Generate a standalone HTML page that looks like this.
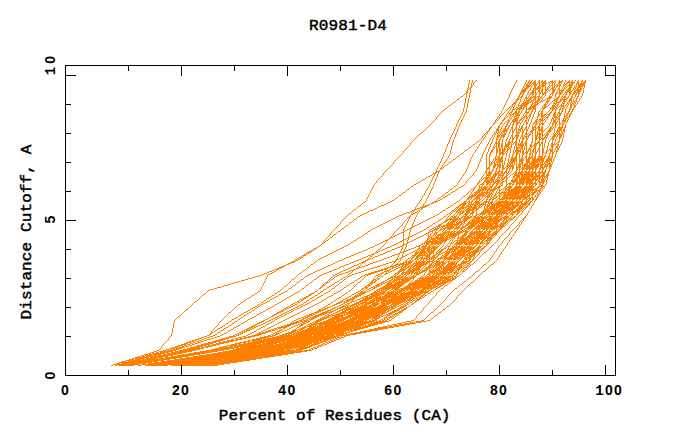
<!DOCTYPE html>
<html><head><meta charset="utf-8">
<style>
html,body{margin:0;padding:0;background:#fff;}
body{width:680px;height:440px;position:relative;overflow:hidden;font-family:"Liberation Mono",monospace;}
svg{position:absolute;left:0;top:0;}
.t{position:absolute;white-space:pre;font-weight:bold;color:#000;line-height:1;}
.title{font-size:16px;letter-spacing:0.15px;left:309px;top:19px;transform:scaleY(0.88);transform-origin:0 0;font-weight:normal;-webkit-text-stroke:0.5px #000;}
.xl{font-size:16px;letter-spacing:0.05px;left:218.8px;top:409.2px;transform:scaleY(0.88);transform-origin:0 0;font-weight:normal;-webkit-text-stroke:0.5px #000;}
.yl{font-size:16px;letter-spacing:0.12px;left:27px;top:232.3px;transform:translate(-50%,-50%) rotate(-90deg) scaleY(0.88);font-weight:normal;-webkit-text-stroke:0.5px #000;}
.tk{font-family:"Liberation Sans",sans-serif;font-weight:bold;font-size:14px;letter-spacing:1.3px;top:383px;}
.tky{font-family:"Liberation Sans",sans-serif;font-weight:bold;font-size:14px;letter-spacing:1.3px;transform:translate(-50%,-50%) rotate(-90deg);left:50px;}
.m{font-family:"Liberation Mono",monospace;font-size:14px;letter-spacing:1.4px;}
.tky .m{letter-spacing:3.2px;}
</style></head><body>
<svg width="680" height="440" viewBox="0 0 680 440">
<path shape-rendering="crispEdges" fill="none" stroke="#ff7f00" stroke-width="1" transform="translate(0,0.5)" d="M469 80h1M472 80h1M476 80h1M516 80h1M526 80h1M529 80h1M532 80h1M535 80h1M539 80h1M542 80h1M545 80h1M552 80h1M555 80h1M559 80h1M562 80h1M565 80h1M569 80h1M572 80h1M575 80h1M578 80h1M582 80h1M585 80h1M469 81h1M472 81h1M475 81h1M516 81h1M526 81h1M528 81h2M531 81h1M534 81h2M538 81h2M541 81h2M544 81h2M550 81h3M554 81h2M559 81h4M565 81h1M568 81h2M571 81h2M574 81h1M577 81h2M581 81h2M584 81h2M469 82h1M472 82h1M474 82h1M515 82h1M525 82h1M528 82h1M530 82h2M533 82h3M538 82h2M541 82h5M548 82h2M551 82h3M555 82h1M558 82h4M564 82h1M567 82h8M577 82h2M581 82h1M583 82h3M468 83h1M471 83h1M473 83h1M515 83h1M525 83h1M527 83h4M532 83h4M537 83h1M539 83h2M542 83h6M550 83h1M552 83h1M554 83h1M558 83h2M561 83h1M564 83h1M566 83h2M569 83h1M571 83h3M576 83h3M580 83h5M468 84h1M471 84h1M473 84h1M514 84h1M524 84h1M526 84h2M529 84h1M531 84h1M533 84h4M539 84h1M541 84h3M545 84h1M549 84h1M552 84h1M554 84h1M556 84h2M559 84h2M563 84h1M565 84h2M569 84h4M576 84h1M578 84h7M468 85h1M471 85h2M514 85h1M524 85h1M526 85h5M532 85h1M534 85h3M539 85h2M542 85h4M549 85h1M551 85h2M554 85h2M557 85h4M563 85h2M566 85h1M568 85h5M575 85h2M578 85h7M468 86h1M471 86h1M513 86h1M523 86h1M525 86h5M531 86h1M534 86h2M538 86h2M541 86h3M545 86h1M548 86h1M550 86h1M552 86h1M554 86h1M556 86h2M559 86h1M563 86h1M565 86h1M567 86h1M569 86h3M574 86h1M576 86h1M578 86h5M584 86h1M468 87h1M470 87h2M513 87h1M523 87h2M526 87h3M531 87h1M534 87h2M537 87h4M542 87h1M545 87h1M547 87h1M549 87h1M552 87h3M556 87h1M559 87h1M562 87h1M564 87h1M566 87h1M569 87h3M574 87h2M577 87h4M582 87h1M584 87h1M467 88h1M469 88h2M512 88h1M522 88h1M524 88h4M530 88h1M533 88h8M542 88h1M545 88h1M547 88h2M551 88h3M555 88h1M558 88h2M562 88h1M564 88h2M568 88h3M573 88h1M575 88h1M577 88h2M580 88h2M583 88h1M467 89h2M470 89h1M512 89h1M522 89h5M530 89h1M533 89h1M535 89h3M539 89h1M541 89h2M545 89h3M550 89h1M552 89h4M558 89h2M561 89h1M563 89h2M567 89h4M573 89h2M576 89h6M583 89h1M467 90h1M470 90h1M511 90h1M521 90h5M529 90h1M532 90h4M538 90h2M541 90h2M545 90h2M548 90h2M552 90h3M557 90h1M559 90h5M566 90h5M572 90h1M574 90h7M583 90h1M466 91h2M470 91h1M511 91h1M521 91h5M528 91h1M532 91h2M535 91h1M538 91h2M541 91h2M545 91h1M547 91h1M552 91h3M557 91h1M559 91h1M561 91h2M565 91h1M567 91h5M574 91h2M577 91h4M583 91h1M466 92h2M470 92h1M510 92h1M520 92h5M528 92h1M531 92h5M537 92h1M539 92h2M542 92h1M544 92h3M552 92h2M556 92h1M558 92h5M565 92h3M569 92h3M573 92h7M583 92h1M465 93h2M469 93h1M510 93h1M520 93h2M523 93h1M527 93h1M529 93h5M535 93h2M539 93h2M542 93h4M551 93h3M556 93h2M559 93h3M564 93h1M566 93h1M569 93h2M573 93h2M576 93h1M578 93h2M582 93h1M464 94h1M466 94h1M469 94h1M509 94h1M519 94h2M522 94h2M527 94h2M530 94h1M532 94h2M535 94h2M539 94h1M542 94h2M545 94h1M550 94h1M552 94h1M555 94h2M559 94h2M563 94h1M565 94h2M569 94h2M572 94h2M575 94h2M578 94h1M582 94h1M463 95h1M466 95h1M469 95h1M509 95h1M519 95h1M522 95h1M526 95h1M529 95h1M532 95h1M535 95h1M539 95h1M542 95h1M545 95h1M549 95h1M552 95h1M555 95h1M559 95h1M562 95h1M565 95h1M569 95h1M572 95h1M575 95h1M578 95h1M582 95h1M461 96h2M466 96h1M469 96h1M509 96h1M518 96h2M521 96h2M526 96h1M528 96h1M531 96h1M533 96h3M537 96h3M541 96h1M544 96h1M549 96h3M555 96h1M558 96h2M562 96h1M564 96h2M568 96h1M571 96h2M575 96h1M577 96h2M581 96h1M460 97h1M466 97h1M469 97h1M508 97h1M518 97h1M520 97h2M525 97h2M528 97h1M530 97h7M538 97h1M540 97h2M543 97h1M548 97h4M555 97h1M557 97h2M561 97h1M563 97h3M567 97h2M571 97h2M574 97h1M577 97h1M581 97h1M459 98h1M465 98h1M468 98h1M508 98h1M517 98h3M521 98h1M525 98h3M529 98h3M534 98h2M538 98h3M542 98h1M546 98h5M554 98h1M556 98h3M561 98h2M564 98h1M566 98h2M570 98h2M574 98h1M576 98h2M580 98h1M457 99h2M465 99h1M468 99h1M507 99h1M516 99h3M520 99h1M524 99h1M526 99h1M528 99h3M533 99h3M537 99h3M542 99h1M545 99h1M547 99h1M549 99h1M554 99h4M560 99h7M569 99h3M573 99h1M576 99h1M579 99h1M456 100h1M465 100h1M468 100h1M507 100h1M516 100h2M520 100h1M524 100h1M526 100h4M531 100h3M535 100h1M537 100h3M541 100h1M543 100h2M547 100h3M553 100h2M556 100h2M560 100h2M563 100h2M566 100h1M569 100h3M573 100h1M575 100h2M579 100h1M455 101h1M465 101h1M468 101h1M506 101h1M515 101h2M520 101h1M523 101h1M525 101h4M530 101h2M533 101h1M535 101h4M540 101h3M546 101h3M552 101h1M554 101h3M559 101h2M563 101h3M568 101h2M571 101h1M573 101h2M576 101h1M578 101h1M453 102h2M465 102h1M468 102h1M506 102h1M514 102h3M519 102h1M523 102h8M532 102h1M534 102h4M539 102h2M546 102h2M551 102h1M554 102h1M556 102h4M562 102h1M564 102h1M567 102h1M569 102h1M571 102h2M574 102h2M577 102h1M452 103h1M464 103h1M467 103h1M505 103h1M513 103h3M519 103h1M522 103h7M532 103h2M535 103h1M537 103h2M545 103h1M547 103h1M550 103h1M553 103h4M558 103h1M562 103h3M567 103h2M570 103h1M572 103h2M575 103h1M577 103h1M451 104h1M464 104h1M467 104h1M505 104h1M512 104h2M515 104h1M518 104h1M521 104h7M531 104h2M534 104h4M544 104h3M549 104h1M553 104h1M555 104h1M557 104h2M561 104h1M563 104h1M566 104h1M568 104h1M570 104h2M573 104h2M576 104h1M449 105h2M464 105h1M467 105h1M504 105h1M511 105h2M514 105h1M518 105h9M531 105h1M533 105h4M543 105h3M548 105h1M552 105h3M556 105h2M560 105h4M565 105h1M567 105h1M570 105h3M574 105h2M448 106h1M464 106h1M467 106h1M504 106h1M510 106h1M512 106h1M514 106h1M518 106h1M520 106h3M524 106h3M530 106h6M542 106h1M544 106h4M552 106h4M557 106h1M559 106h1M561 106h3M565 106h1M567 106h1M570 106h2M574 106h2M447 107h1M464 107h1M467 107h1M503 107h1M509 107h1M511 107h1M513 107h1M516 107h2M519 107h3M523 107h2M526 107h1M529 107h7M542 107h4M551 107h3M555 107h2M558 107h1M560 107h2M563 107h2M566 107h1M570 107h2M573 107h2M445 108h2M463 108h1M466 108h1M503 108h1M508 108h1M510 108h1M513 108h1M515 108h1M517 108h7M526 108h1M528 108h4M533 108h3M541 108h1M543 108h2M550 108h5M556 108h2M560 108h1M562 108h2M566 108h1M569 108h2M573 108h1M444 109h1M463 109h1M466 109h1M502 109h1M507 109h1M510 109h1M512 109h3M516 109h5M523 109h1M526 109h5M532 109h2M535 109h1M540 109h1M542 109h2M550 109h1M552 109h2M555 109h2M559 109h2M562 109h2M565 109h1M569 109h2M572 109h2M443 110h1M463 110h1M466 110h1M502 110h1M506 110h1M509 110h1M512 110h1M516 110h1M519 110h1M522 110h1M526 110h1M529 110h1M532 110h1M535 110h1M539 110h1M542 110h1M549 110h1M552 110h1M555 110h1M559 110h1M562 110h1M565 110h1M569 110h1M572 110h1M442 111h1M463 111h1M466 111h1M501 111h1M505 111h1M508 111h1M511 111h2M515 111h2M518 111h2M521 111h1M525 111h2M528 111h1M531 111h2M535 111h1M539 111h1M541 111h2M548 111h1M551 111h1M555 111h1M559 111h1M561 111h2M565 111h1M568 111h2M571 111h2M441 112h1M462 112h1M465 112h1M501 112h1M504 112h1M508 112h1M510 112h2M514 112h3M518 112h2M521 112h1M525 112h4M531 112h1M534 112h1M538 112h1M541 112h2M547 112h1M550 112h2M554 112h2M558 112h2M561 112h1M565 112h1M568 112h1M571 112h1M440 113h1M462 113h1M465 113h1M500 113h1M503 113h1M507 113h1M509 113h1M511 113h1M513 113h6M520 113h1M524 113h1M526 113h2M530 113h2M534 113h1M538 113h1M540 113h3M546 113h1M549 113h2M554 113h2M558 113h4M564 113h1M567 113h2M570 113h2M439 114h1M461 114h1M464 114h1M499 114h1M502 114h1M506 114h1M509 114h2M512 114h2M515 114h5M523 114h1M526 114h1M529 114h2M533 114h1M538 114h2M541 114h2M544 114h2M547 114h3M553 114h3M557 114h1M559 114h2M564 114h1M566 114h2M569 114h2M438 115h1M461 115h1M464 115h1M499 115h1M501 115h1M506 115h1M508 115h1M510 115h2M513 115h1M515 115h5M523 115h1M525 115h2M529 115h2M533 115h1M538 115h2M541 115h4M546 115h1M548 115h2M553 115h3M557 115h1M559 115h2M564 115h1M566 115h2M569 115h2M437 116h1M460 116h1M463 116h1M498 116h1M500 116h1M505 116h1M507 116h1M510 116h1M512 116h1M514 116h3M518 116h1M522 116h1M524 116h3M528 116h1M530 116h1M533 116h1M537 116h2M541 116h3M545 116h1M547 116h2M553 116h4M558 116h2M564 116h3M568 116h2M436 117h1M460 117h1M463 117h1M497 117h1M499 117h1M504 117h1M506 117h1M509 117h1M511 117h1M514 117h1M516 117h3M521 117h1M523 117h2M526 117h2M529 117h1M532 117h1M537 117h1M541 117h2M544 117h1M546 117h2M552 117h1M554 117h4M559 117h1M564 117h1M566 117h2M569 117h1M436 118h1M459 118h1M462 118h1M497 118h1M499 118h1M504 118h2M509 118h1M511 118h1M514 118h4M521 118h2M524 118h1M526 118h2M529 118h1M532 118h1M537 118h1M540 118h1M542 118h2M545 118h1M547 118h1M552 118h2M555 118h1M557 118h3M563 118h3M567 118h2M435 119h1M459 119h1M462 119h1M496 119h1M498 119h1M503 119h2M508 119h1M510 119h1M513 119h5M520 119h2M523 119h1M526 119h1M528 119h1M531 119h1M536 119h2M539 119h4M544 119h1M546 119h1M551 119h1M553 119h1M555 119h2M558 119h2M563 119h1M565 119h2M568 119h1M434 120h1M458 120h1M461 120h1M495 120h1M497 120h1M502 120h2M507 120h3M512 120h6M519 120h2M522 120h1M525 120h2M528 120h1M531 120h1M535 120h2M538 120h1M540 120h4M545 120h1M551 120h1M553 120h3M557 120h1M559 120h1M562 120h4M567 120h1M433 121h1M458 121h1M461 121h1M495 121h2M502 121h1M506 121h1M508 121h2M512 121h6M519 121h1M522 121h1M525 121h2M528 121h1M531 121h1M535 121h3M539 121h2M542 121h1M545 121h1M551 121h1M553 121h3M557 121h1M559 121h1M562 121h4M567 121h1M432 122h1M457 122h1M460 122h1M494 122h2M501 122h2M505 122h1M507 122h2M511 122h1M513 122h2M516 122h4M521 122h1M524 122h1M526 122h2M530 122h1M534 122h3M538 122h1M540 122h1M542 122h1M544 122h1M550 122h1M553 122h4M559 122h1M561 122h1M563 122h2M566 122h1M431 123h1M457 123h1M460 123h1M493 123h2M500 123h2M504 123h1M507 123h1M510 123h1M513 123h1M516 123h3M520 123h1M523 123h1M526 123h2M530 123h1M533 123h2M536 123h2M539 123h1M541 123h3M550 123h1M552 123h2M555 123h2M559 123h2M562 123h2M566 123h1M430 124h1M456 124h1M459 124h1M493 124h1M500 124h1M503 124h1M506 124h2M510 124h1M512 124h2M516 124h2M520 124h1M523 124h1M526 124h1M529 124h1M533 124h1M535 124h2M539 124h2M542 124h2M549 124h1M552 124h2M555 124h1M559 124h2M562 124h2M565 124h1M429 125h1M456 125h1M459 125h1M492 125h1M499 125h1M502 125h1M506 125h1M509 125h1M512 125h1M516 125h1M519 125h1M522 125h1M526 125h1M529 125h1M532 125h1M535 125h1M539 125h1M542 125h1M549 125h1M552 125h1M555 125h1M559 125h1M562 125h1M565 125h1M428 126h1M456 126h1M459 126h1M491 126h1M498 126h2M502 126h1M505 126h2M508 126h2M512 126h1M516 126h1M519 126h1M521 126h2M526 126h1M529 126h1M532 126h1M534 126h2M538 126h2M542 126h1M548 126h1M551 126h2M554 126h2M559 126h1M561 126h2M565 126h1M427 127h1M455 127h1M458 127h1M490 127h2M498 127h2M501 127h1M505 127h1M508 127h1M511 127h2M515 127h2M519 127h1M521 127h2M525 127h2M528 127h1M532 127h4M537 127h3M541 127h2M547 127h1M550 127h2M553 127h1M555 127h1M558 127h5M564 127h2M426 128h1M455 128h1M458 128h1M489 128h2M497 128h2M501 128h1M504 128h2M507 128h2M511 128h2M515 128h2M518 128h1M520 128h3M525 128h2M528 128h1M532 128h2M535 128h2M538 128h2M541 128h2M546 128h1M549 128h4M554 128h1M558 128h4M564 128h1M425 129h1M454 129h1M457 129h1M489 129h1M496 129h3M500 129h1M503 129h5M510 129h1M512 129h1M514 129h1M516 129h1M518 129h3M522 129h1M524 129h1M526 129h2M532 129h4M538 129h5M545 129h1M549 129h2M552 129h1M554 129h1M557 129h1M559 129h3M563 129h2M424 130h1M454 130h1M457 130h1M488 130h2M496 130h3M500 130h1M503 130h5M510 130h1M512 130h1M514 130h1M516 130h1M518 130h3M522 130h1M524 130h1M526 130h2M531 130h3M535 130h1M538 130h5M544 130h1M548 130h4M554 130h1M557 130h5M563 130h2M423 131h1M453 131h1M457 131h1M487 131h2M495 131h2M498 131h1M500 131h1M502 131h5M510 131h1M512 131h2M516 131h1M518 131h1M520 131h1M522 131h2M526 131h1M530 131h3M535 131h1M537 131h1M539 131h1M541 131h3M547 131h4M554 131h1M556 131h4M561 131h1M563 131h2M421 132h2M453 132h1M456 132h1M486 132h2M494 132h1M496 132h1M498 132h2M501 132h1M503 132h2M506 132h1M509 132h1M512 132h2M516 132h4M522 132h2M526 132h1M529 132h1M531 132h2M535 132h1M537 132h1M539 132h1M541 132h2M546 132h2M549 132h1M554 132h1M556 132h2M559 132h1M561 132h2M564 132h1M420 133h1M452 133h1M456 133h1M485 133h1M487 133h1M494 133h2M497 133h1M499 133h1M501 133h2M504 133h2M509 133h1M512 133h1M516 133h2M519 133h1M522 133h1M525 133h2M528 133h1M530 133h1M532 133h1M535 133h1M537 133h4M542 133h1M545 133h1M547 133h2M553 133h1M555 133h1M557 133h4M562 133h2M419 134h1M452 134h1M455 134h1M484 134h1M486 134h1M493 134h1M495 134h1M497 134h2M500 134h1M502 134h4M508 134h1M512 134h1M516 134h3M522 134h1M525 134h3M529 134h2M532 134h1M535 134h1M537 134h6M544 134h1M546 134h3M553 134h4M558 134h4M563 134h1M418 135h1M451 135h1M455 135h1M483 135h1M485 135h1M492 135h1M494 135h1M497 135h3M501 135h4M508 135h1M511 135h2M515 135h4M521 135h2M524 135h1M526 135h1M528 135h2M532 135h1M535 135h3M539 135h2M542 135h2M545 135h3M553 135h3M557 135h1M559 135h3M563 135h1M417 136h1M451 136h1M455 136h1M482 136h1M485 136h1M492 136h1M494 136h1M497 136h3M501 136h4M508 136h1M511 136h2M515 136h4M521 136h2M524 136h5M532 136h1M535 136h3M539 136h2M542 136h1M545 136h1M547 136h1M552 136h4M557 136h1M559 136h3M563 136h1M416 137h1M450 137h1M454 137h1M482 137h1M484 137h1M491 137h1M493 137h1M497 137h2M500 137h2M503 137h1M507 137h1M510 137h1M512 137h1M514 137h1M516 137h2M520 137h1M522 137h2M525 137h2M528 137h1M532 137h1M535 137h2M538 137h3M542 137h1M544 137h3M552 137h3M556 137h1M559 137h2M563 137h1M415 138h1M450 138h1M454 138h1M481 138h1M483 138h1M490 138h1M493 138h1M496 138h2M500 138h1M503 138h1M507 138h1M510 138h1M512 138h2M516 138h2M520 138h1M522 138h3M526 138h2M532 138h1M535 138h3M539 138h1M541 138h4M546 138h1M551 138h3M556 138h1M559 138h2M562 138h1M414 139h1M449 139h1M453 139h1M480 139h1M483 139h1M490 139h1M492 139h1M496 139h2M499 139h2M502 139h1M506 139h1M509 139h1M512 139h2M516 139h1M519 139h1M522 139h2M526 139h2M532 139h1M535 139h2M539 139h2M542 139h2M545 139h1M550 139h1M552 139h2M555 139h1M559 139h1M562 139h1M413 140h1M449 140h1M453 140h1M479 140h1M482 140h1M489 140h1M492 140h1M496 140h1M499 140h1M502 140h1M506 140h1M509 140h1M512 140h1M516 140h1M519 140h1M522 140h1M526 140h1M532 140h1M535 140h1M539 140h1M542 140h1M545 140h1M549 140h1M552 140h1M555 140h1M559 140h1M562 140h1M412 141h1M449 141h1M453 141h1M477 141h2M481 141h1M489 141h1M492 141h1M496 141h1M498 141h2M502 141h1M506 141h1M508 141h2M511 141h2M515 141h2M519 141h1M521 141h2M525 141h2M532 141h1M535 141h1M538 141h2M542 141h1M545 141h1M549 141h1M552 141h1M555 141h1M558 141h2M562 141h1M411 142h1M448 142h1M452 142h1M476 142h1M481 142h1M488 142h1M491 142h1M495 142h2M498 142h2M502 142h1M505 142h1M508 142h3M512 142h1M514 142h3M519 142h1M521 142h2M525 142h2M531 142h2M535 142h1M537 142h3M541 142h2M545 142h1M548 142h1M552 142h1M554 142h1M557 142h2M561 142h1M410 143h1M448 143h1M452 143h1M475 143h1M480 143h1M488 143h1M491 143h1M495 143h5M501 143h2M505 143h1M507 143h3M511 143h1M513 143h1M515 143h2M518 143h1M520 143h3M524 143h3M531 143h1M534 143h4M539 143h1M541 143h2M544 143h1M548 143h1M551 143h2M554 143h1M556 143h1M558 143h1M561 143h1M410 144h1M447 144h1M452 144h1M473 144h2M479 144h1M487 144h1M490 144h1M494 144h1M496 144h1M498 144h2M501 144h2M505 144h5M511 144h2M515 144h2M518 144h6M525 144h2M530 144h2M534 144h3M539 144h2M542 144h1M544 144h1M548 144h1M551 144h5M557 144h2M560 144h1M409 145h1M447 145h1M452 145h1M472 145h1M479 145h1M487 145h1M490 145h1M494 145h1M496 145h1M498 145h2M501 145h2M505 145h4M511 145h1M515 145h2M518 145h6M525 145h2M530 145h2M533 145h4M539 145h2M542 145h1M544 145h1M548 145h1M551 145h3M557 145h2M560 145h1M408 146h1M447 146h1M451 146h1M471 146h1M478 146h1M486 146h1M490 146h1M493 146h1M495 146h2M498 146h2M501 146h2M504 146h5M510 146h2M514 146h1M516 146h1M518 146h1M520 146h3M524 146h1M526 146h1M530 146h3M534 146h2M539 146h1M542 146h1M544 146h1M547 146h1M551 146h3M556 146h2M559 146h1M407 147h1M446 147h1M451 147h1M469 147h2M477 147h1M486 147h1M489 147h1M493 147h2M496 147h1M498 147h2M501 147h2M504 147h1M506 147h1M508 147h2M511 147h1M514 147h1M516 147h4M521 147h2M524 147h1M526 147h1M529 147h1M531 147h1M534 147h2M539 147h1M542 147h1M544 147h1M547 147h1M551 147h2M556 147h2M559 147h1M406 148h1M446 148h1M451 148h1M468 148h1M477 148h1M485 148h1M489 148h1M492 148h1M494 148h1M496 148h2M499 148h2M502 148h1M504 148h2M507 148h1M509 148h2M514 148h1M516 148h2M519 148h4M524 148h1M526 148h1M529 148h2M533 148h3M538 148h2M542 148h2M547 148h1M550 148h1M552 148h1M555 148h1M557 148h2M405 149h1M445 149h1M451 149h1M467 149h1M476 149h1M485 149h1M488 149h1M492 149h2M496 149h2M499 149h2M502 149h4M507 149h2M510 149h1M514 149h1M516 149h3M520 149h1M522 149h1M524 149h1M526 149h1M528 149h3M533 149h1M535 149h1M538 149h2M542 149h2M547 149h1M549 149h4M555 149h1M557 149h2M404 150h1M445 150h1M450 150h1M465 150h2M475 150h1M484 150h1M488 150h1M491 150h2M496 150h2M499 150h2M502 150h3M507 150h1M510 150h1M513 150h1M515 150h6M522 150h2M526 150h1M528 150h1M530 150h1M532 150h2M535 150h1M537 150h1M539 150h1M542 150h2M546 150h1M548 150h1M550 150h3M554 150h1M556 150h2M403 151h1M445 151h1M450 151h1M464 151h1M475 151h1M484 151h1M488 151h1M491 151h2M496 151h2M499 151h2M502 151h3M506 151h2M510 151h1M513 151h1M515 151h6M522 151h2M526 151h3M530 151h1M532 151h2M535 151h1M537 151h1M539 151h1M542 151h2M546 151h2M550 151h3M554 151h1M556 151h2M403 152h1M444 152h1M450 152h1M463 152h1M474 152h1M483 152h1M487 152h1M490 152h2M496 152h2M499 152h5M505 152h1M507 152h1M510 152h1M513 152h2M516 152h3M520 152h1M522 152h2M525 152h3M530 152h2M533 152h1M535 152h2M539 152h1M542 152h2M545 152h2M550 152h1M552 152h2M556 152h1M402 153h1M444 153h1M450 153h1M461 153h2M473 153h1M483 153h1M487 153h1M490 153h1M496 153h1M499 153h6M506 153h1M509 153h1M513 153h1M516 153h2M519 153h1M522 153h3M526 153h2M529 153h2M532 153h1M535 153h2M539 153h1M542 153h1M544 153h1M546 153h1M549 153h2M552 153h2M556 153h1M401 154h1M443 154h1M449 154h1M460 154h1M473 154h1M482 154h1M486 154h1M489 154h2M496 154h1M499 154h2M502 154h2M506 154h1M509 154h1M512 154h2M516 154h2M519 154h1M522 154h2M526 154h1M529 154h2M532 154h1M535 154h1M539 154h1M542 154h2M545 154h1M549 154h1M552 154h1M555 154h1M400 155h1M443 155h1M449 155h1M459 155h1M472 155h1M482 155h1M486 155h1M489 155h1M496 155h1M499 155h1M502 155h1M506 155h1M509 155h1M512 155h1M516 155h1M519 155h1M522 155h1M526 155h1M529 155h1M532 155h1M535 155h1M539 155h1M542 155h1M545 155h1M549 155h1M552 155h1M555 155h1M399 156h1M443 156h1M448 156h1M457 156h2M472 156h1M482 156h1M486 156h1M489 156h1M495 156h2M498 156h2M501 156h2M506 156h1M509 156h1M512 156h1M515 156h2M519 156h1M522 156h1M525 156h2M529 156h1M531 156h2M534 156h2M538 156h5M544 156h2M548 156h2M551 156h2M555 156h1M398 157h1M442 157h1M448 157h1M456 157h1M471 157h1M481 157h1M486 157h1M489 157h1M495 157h1M497 157h3M501 157h2M505 157h1M509 157h1M511 157h2M514 157h3M519 157h1M521 157h2M525 157h2M528 157h5M534 157h2M538 157h5M544 157h1M548 157h2M551 157h2M554 157h1M397 158h1M442 158h1M447 158h1M455 158h1M471 158h1M481 158h1M486 158h1M489 158h1M494 158h3M498 158h5M505 158h1M508 158h1M511 158h6M519 158h1M521 158h2M524 158h1M526 158h1M528 158h3M532 158h4M537 158h8M547 158h5M554 158h1M396 159h1M441 159h1M446 159h1M453 159h2M470 159h1M480 159h1M486 159h1M489 159h1M493 159h1M495 159h8M505 159h1M508 159h1M510 159h7M519 159h5M526 159h4M532 159h12M546 159h6M553 159h1M395 160h1M441 160h1M446 160h1M452 160h1M470 160h1M480 160h1M486 160h1M489 160h1M493 160h1M495 160h1M497 160h6M505 160h1M508 160h1M510 160h7M519 160h5M526 160h4M532 160h12M546 160h6M553 160h1M394 161h1M440 161h1M445 161h1M451 161h1M470 161h1M480 161h1M486 161h1M489 161h1M492 161h1M494 161h1M496 161h1M498 161h5M504 161h1M508 161h1M510 161h5M516 161h1M519 161h4M526 161h4M531 161h9M541 161h3M545 161h5M551 161h1M553 161h1M393 162h1M440 162h1M444 162h1M449 162h2M469 162h1M479 162h1M486 162h1M489 162h1M491 162h1M493 162h2M496 162h4M501 162h2M504 162h1M508 162h2M511 162h4M516 162h1M519 162h1M521 162h2M526 162h4M531 162h7M539 162h4M544 162h1M546 162h2M549 162h1M551 162h2M393 163h1M439 163h1M444 163h1M448 163h1M469 163h1M479 163h1M486 163h1M489 163h1M491 163h2M494 163h2M497 163h1M499 163h2M502 163h1M504 163h1M507 163h1M509 163h4M514 163h1M516 163h1M519 163h4M525 163h3M529 163h7M537 163h2M540 163h1M542 163h1M544 163h2M547 163h4M552 163h1M392 164h1M439 164h1M443 164h1M447 164h1M468 164h1M478 164h1M486 164h1M489 164h3M494 164h7M502 164h1M504 164h1M507 164h2M510 164h1M512 164h1M514 164h1M516 164h1M518 164h3M522 164h1M524 164h4M529 164h15M545 164h7M391 165h1M438 165h1M442 165h1M445 165h2M468 165h1M478 165h1M486 165h1M489 165h2M493 165h3M497 165h4M502 165h2M507 165h7M516 165h1M518 165h3M522 165h8M531 165h8M540 165h3M544 165h4M549 165h3M390 166h1M438 166h1M442 166h1M444 166h1M468 166h1M478 166h1M486 166h1M489 166h1M493 166h3M497 166h4M502 166h2M506 166h8M516 166h1M518 166h3M522 166h1M524 166h15M540 166h3M544 166h4M549 166h3M389 167h1M437 167h1M441 167h1M443 167h1M467 167h1M477 167h1M486 167h1M488 167h2M493 167h2M497 167h1M499 167h2M502 167h2M505 167h1M507 167h2M510 167h1M512 167h2M516 167h5M522 167h3M526 167h12M540 167h5M546 167h1M549 167h2M388 168h1M437 168h1M440 168h3M467 168h1M477 168h1M486 168h4M493 168h1M496 168h2M499 168h1M502 168h3M506 168h2M509 168h2M512 168h2M516 168h2M519 168h1M521 168h13M535 168h2M539 168h2M542 168h2M546 168h1M549 168h2M387 169h1M436 169h1M440 169h1M466 169h1M476 169h1M486 169h2M489 169h1M492 169h2M496 169h1M499 169h1M502 169h2M506 169h2M509 169h1M512 169h1M516 169h2M519 169h2M522 169h2M526 169h2M529 169h2M532 169h2M535 169h2M539 169h2M542 169h2M545 169h1M549 169h1M386 170h1M436 170h1M439 170h1M466 170h1M476 170h1M486 170h1M489 170h1M492 170h1M496 170h1M499 170h1M502 170h1M506 170h1M509 170h1M512 170h1M516 170h1M519 170h1M522 170h1M526 170h1M529 170h1M532 170h1M535 170h1M539 170h1M542 170h1M545 170h1M549 170h1M385 171h1M436 171h4M465 171h1M475 171h1M485 171h2M489 171h1M491 171h2M495 171h2M498 171h5M505 171h2M508 171h1M511 171h1M515 171h2M519 171h1M521 171h2M524 171h3M528 171h2M531 171h2M534 171h2M538 171h2M541 171h2M544 171h2M548 171h2M384 172h1M435 172h2M438 172h1M465 172h1M474 172h1M485 172h2M488 172h4M495 172h1M497 172h3M501 172h2M504 172h3M508 172h1M510 172h1M514 172h3M518 172h6M525 172h11M537 172h9M548 172h1M383 173h1M433 173h3M438 173h1M464 173h1M473 173h1M484 173h1M486 173h1M488 173h4M494 173h5M500 173h5M506 173h2M509 173h1M513 173h1M515 173h2M518 173h5M524 173h6M531 173h7M539 173h2M542 173h3M547 173h2M383 174h1M432 174h1M434 174h1M437 174h1M463 174h1M473 174h1M483 174h1M486 174h5M493 174h4M498 174h3M502 174h2M506 174h1M508 174h1M511 174h2M514 174h20M535 174h2M538 174h2M542 174h3M546 174h3M382 175h1M430 175h2M434 175h1M437 175h1M463 175h1M472 175h1M483 175h1M486 175h5M493 175h4M498 175h6M506 175h2M510 175h1M514 175h6M521 175h13M535 175h5M541 175h4M546 175h3M381 176h1M428 176h2M433 176h1M437 176h1M462 176h1M471 176h1M482 176h1M486 176h1M488 176h1M490 176h1M492 176h4M498 176h1M500 176h1M502 176h1M505 176h2M509 176h1M513 176h2M516 176h4M521 176h27M380 177h1M426 177h2M433 177h1M436 177h1M461 177h1M470 177h1M481 177h1M484 177h6M491 177h4M497 177h3M501 177h2M504 177h3M508 177h1M513 177h2M516 177h4M521 177h9M531 177h7M539 177h2M542 177h1M544 177h1M546 177h2M379 178h1M425 178h1M432 178h1M436 178h1M461 178h1M469 178h1M481 178h1M483 178h1M485 178h3M489 178h4M494 178h1M497 178h1M499 178h1M501 178h4M506 178h2M512 178h1M514 178h4M519 178h12M532 178h4M537 178h4M542 178h4M547 178h1M378 179h1M423 179h2M432 179h1M435 179h1M460 179h1M468 179h1M480 179h1M482 179h1M485 179h4M490 179h5M496 179h3M500 179h1M502 179h2M506 179h1M512 179h1M514 179h4M519 179h19M539 179h1M541 179h3M545 179h1M547 179h1M377 180h1M421 180h2M431 180h1M435 180h1M459 180h1M467 180h1M479 180h1M481 180h1M484 180h10M495 180h1M497 180h3M501 180h2M505 180h2M511 180h7M519 180h6M526 180h8M535 180h2M538 180h2M541 180h4M546 180h1M376 181h1M420 181h1M431 181h1M435 181h1M459 181h1M466 181h1M479 181h2M484 181h6M491 181h3M495 181h6M502 181h3M506 181h1M511 181h7M519 181h14M535 181h1M538 181h2M541 181h4M546 181h1M376 182h1M418 182h2M430 182h1M434 182h1M458 182h1M466 182h1M478 182h2M483 182h2M486 182h6M493 182h3M497 182h3M501 182h2M506 182h1M510 182h1M512 182h3M516 182h8M525 182h8M534 182h2M537 182h1M539 182h5M546 182h1M375 183h1M416 183h2M430 183h1M434 183h1M457 183h1M465 183h1M477 183h2M482 183h2M486 183h3M490 183h1M493 183h2M496 183h3M500 183h3M506 183h1M508 183h4M513 183h1M516 183h9M526 183h11M539 183h2M542 183h2M546 183h1M374 184h1M414 184h2M429 184h1M433 184h1M457 184h1M464 184h1M477 184h1M480 184h4M486 184h2M489 184h2M492 184h2M496 184h2M500 184h1M502 184h1M506 184h2M509 184h2M512 184h2M516 184h2M519 184h2M522 184h2M526 184h2M529 184h2M532 184h2M535 184h2M539 184h2M542 184h1M545 184h1M373 185h1M413 185h1M429 185h1M433 185h1M456 185h1M463 185h1M476 185h1M479 185h1M482 185h1M486 185h1M489 185h1M492 185h1M496 185h1M499 185h1M501 185h2M506 185h1M509 185h1M512 185h1M516 185h1M519 185h1M522 185h1M526 185h1M529 185h1M531 185h2M535 185h1M539 185h1M541 185h2M545 185h1M373 186h1M411 186h2M428 186h1M433 186h1M454 186h2M461 186h2M475 186h1M479 186h1M481 186h2M484 186h2M487 186h2M490 186h3M495 186h2M498 186h3M505 186h2M508 186h4M515 186h7M524 186h11M538 186h7M372 187h1M410 187h1M428 187h1M432 187h1M453 187h1M459 187h2M474 187h2M479 187h3M483 187h5M489 187h3M494 187h2M497 187h3M504 187h2M507 187h5M514 187h8M523 187h11M537 187h2M541 187h2M544 187h1M372 188h1M409 188h1M427 188h1M432 188h1M452 188h1M458 188h1M473 188h2M479 188h1M481 188h6M488 188h2M491 188h1M493 188h4M498 188h2M503 188h1M505 188h2M508 188h3M513 188h8M522 188h11M535 188h3M540 188h2M543 188h1M371 189h1M407 189h2M427 189h1M431 189h1M450 189h2M456 189h2M471 189h3M478 189h18M497 189h1M499 189h1M501 189h2M504 189h6M511 189h26M539 189h2M542 189h1M371 190h1M406 190h1M426 190h1M431 190h1M449 190h1M455 190h1M470 190h1M473 190h1M477 190h7M485 190h1M487 190h2M490 190h5M497 190h1M499 190h2M503 190h1M505 190h1M507 190h27M535 190h6M542 190h1M370 191h1M405 191h1M425 191h1M430 191h1M448 191h1M453 191h2M469 191h1M472 191h1M476 191h5M482 191h1M484 191h1M486 191h2M489 191h2M492 191h2M496 191h1M499 191h1M502 191h1M504 191h1M506 191h1M508 191h23M532 191h1M534 191h3M538 191h2M541 191h1M370 192h1M403 192h2M425 192h1M430 192h1M446 192h2M451 192h2M468 192h1M471 192h1M474 192h6M481 192h9M491 192h1M493 192h1M496 192h1M498 192h2M501 192h29M531 192h5M537 192h1M539 192h2M369 193h1M402 193h1M424 193h1M429 193h1M445 193h1M450 193h1M467 193h1M471 193h1M473 193h1M475 193h3M479 193h5M485 193h3M489 193h4M495 193h1M497 193h1M499 193h3M503 193h3M507 193h13M521 193h7M529 193h2M532 193h3M537 193h2M540 193h1M369 194h1M401 194h1M424 194h1M429 194h1M444 194h1M448 194h2M466 194h1M470 194h1M472 194h1M474 194h3M478 194h7M486 194h1M488 194h3M492 194h1M495 194h2M499 194h2M502 194h1M504 194h15M520 194h8M529 194h1M531 194h3M536 194h1M538 194h2M368 195h1M399 195h2M423 195h1M428 195h1M442 195h2M447 195h1M465 195h1M469 195h1M471 195h5M477 195h7M485 195h1M487 195h3M491 195h1M494 195h2M498 195h2M501 195h1M503 195h23M527 195h4M532 195h1M535 195h1M537 195h2M368 196h1M398 196h1M422 196h1M428 196h1M441 196h1M445 196h2M463 196h2M469 196h6M476 196h5M482 196h3M486 196h4M491 196h1M493 196h2M496 196h2M499 196h2M503 196h5M509 196h21M532 196h1M535 196h1M537 196h2M367 197h1M397 197h1M422 197h1M427 197h1M440 197h1M443 197h2M462 197h1M468 197h5M475 197h5M482 197h1M485 197h1M487 197h2M490 197h1M492 197h2M495 197h2M499 197h1M502 197h26M529 197h1M531 197h2M534 197h1M536 197h2M367 198h1M395 198h2M421 198h1M427 198h1M438 198h2M442 198h1M461 198h1M467 198h3M471 198h1M474 198h6M481 198h1M484 198h1M487 198h1M490 198h2M493 198h3M498 198h2M501 198h21M523 198h4M528 198h3M532 198h2M536 198h1M366 199h1M394 199h1M421 199h1M426 199h1M437 199h1M440 199h2M460 199h1M467 199h2M470 199h1M473 199h2M476 199h2M479 199h2M483 199h1M486 199h2M489 199h2M492 199h2M497 199h1M499 199h6M506 199h2M509 199h2M512 199h3M516 199h2M519 199h2M522 199h3M526 199h2M529 199h2M532 199h2M535 199h2M366 200h1M392 200h2M420 200h1M426 200h1M436 200h1M438 200h2M459 200h1M466 200h1M469 200h1M472 200h1M476 200h1M479 200h1M482 200h1M486 200h1M489 200h1M492 200h1M496 200h1M499 200h1M502 200h1M505 200h2M509 200h1M512 200h1M516 200h1M519 200h1M522 200h1M526 200h1M528 200h2M532 200h1M535 200h1M365 201h1M390 201h2M419 201h1M425 201h1M434 201h4M457 201h2M464 201h3M468 201h2M471 201h2M475 201h4M481 201h1M484 201h6M491 201h2M495 201h1M497 201h12M510 201h3M514 201h2M517 201h2M520 201h3M525 201h4M530 201h2M534 201h1M363 202h2M388 202h2M419 202h1M425 202h1M432 202h4M456 202h1M463 202h3M467 202h1M469 202h3M474 202h7M483 202h4M488 202h1M490 202h3M494 202h1M496 202h26M524 202h4M529 202h2M534 202h1M362 203h1M386 203h2M418 203h1M424 203h1M430 203h3M454 203h2M462 203h5M468 203h2M471 203h1M473 203h1M475 203h5M481 203h3M485 203h1M488 203h4M493 203h1M495 203h7M503 203h12M516 203h4M521 203h9M533 203h1M361 204h1M384 204h2M417 204h1M423 204h1M428 204h2M453 204h1M460 204h6M468 204h10M479 204h7M487 204h1M489 204h1M491 204h23M515 204h4M520 204h7M528 204h2M533 204h1M360 205h1M381 205h3M417 205h1M423 205h1M425 205h4M451 205h2M459 205h2M462 205h3M467 205h2M470 205h1M472 205h1M474 205h3M478 205h3M482 205h1M485 205h1M487 205h3M491 205h20M512 205h9M522 205h4M527 205h2M532 205h1M358 206h2M379 206h2M416 206h1M422 206h5M450 206h1M458 206h2M461 206h3M466 206h6M473 206h5M479 206h1M481 206h1M484 206h1M486 206h3M490 206h5M496 206h14M511 206h7M519 206h5M526 206h2M531 206h1M357 207h1M377 207h2M415 207h1M420 207h5M448 207h2M456 207h3M460 207h7M468 207h9M478 207h3M484 207h1M486 207h2M489 207h11M501 207h15M518 207h5M524 207h3M531 207h1M356 208h1M375 208h2M415 208h1M417 208h3M421 208h2M446 208h2M455 208h1M457 208h1M459 208h5M465 208h1M467 208h4M472 208h7M484 208h2M487 208h11M499 208h16M517 208h5M523 208h1M525 208h1M530 208h1M354 209h2M373 209h2M414 209h3M420 209h2M445 209h1M454 209h1M456 209h1M458 209h3M462 209h1M464 209h1M466 209h9M476 209h2M484 209h5M490 209h7M498 209h7M506 209h8M516 209h5M522 209h1M524 209h1M530 209h1M353 210h1M370 210h3M412 210h3M418 210h2M443 210h2M452 210h2M455 210h1M457 210h3M461 210h1M463 210h1M465 210h9M475 210h2M483 210h9M493 210h20M515 210h5M521 210h1M523 210h1M529 210h1M352 211h1M368 211h2M410 211h2M413 211h1M417 211h1M419 211h1M442 211h1M451 211h1M453 211h2M456 211h2M459 211h6M466 211h4M472 211h3M476 211h1M482 211h9M492 211h1M494 211h14M509 211h2M512 211h9M522 211h1M528 211h1M351 212h1M366 212h2M407 212h3M412 212h1M415 212h2M418 212h1M440 212h2M450 212h1M452 212h1M456 212h1M458 212h3M462 212h2M466 212h4M471 212h3M476 212h1M481 212h26M508 212h2M511 212h5M517 212h3M522 212h1M528 212h1M349 213h2M364 213h2M404 213h3M411 213h1M413 213h2M417 213h1M439 213h1M448 213h2M451 213h1M455 213h1M457 213h2M460 213h3M465 213h4M470 213h4M476 213h1M479 213h8M488 213h2M491 213h18M510 213h3M514 213h1M517 213h2M521 213h1M527 213h1M348 214h1M362 214h2M402 214h2M411 214h2M417 214h1M437 214h2M447 214h1M450 214h1M454 214h1M457 214h1M459 214h2M464 214h4M470 214h1M472 214h1M476 214h3M480 214h5M487 214h8M496 214h6M503 214h1M506 214h2M510 214h4M516 214h2M520 214h1M527 214h1M347 215h1M360 215h2M399 215h3M410 215h1M416 215h1M435 215h2M446 215h1M449 215h1M453 215h1M456 215h1M459 215h1M463 215h1M465 215h2M469 215h1M472 215h1M475 215h2M479 215h1M482 215h1M486 215h1M489 215h1M492 215h1M496 215h2M499 215h1M501 215h2M506 215h1M509 215h1M512 215h1M516 215h1M519 215h1M526 215h1M346 216h1M358 216h2M397 216h2M409 216h2M416 216h1M433 216h2M444 216h2M448 216h1M451 216h2M454 216h3M458 216h1M462 216h4M467 216h2M470 216h2M473 216h3M477 216h2M480 216h3M484 216h2M487 216h6M494 216h8M504 216h5M511 216h1M514 216h2M518 216h1M525 216h1M345 217h1M357 217h1M395 217h2M408 217h2M415 217h1M431 217h2M443 217h1M447 217h1M450 217h1M452 217h4M457 217h2M461 217h2M464 217h9M474 217h14M489 217h3M493 217h7M501 217h8M510 217h1M512 217h3M517 217h1M524 217h2M344 218h1M356 218h1M393 218h2M407 218h1M409 218h1M415 218h1M429 218h2M441 218h2M446 218h1M449 218h3M453 218h5M459 218h3M463 218h7M473 218h7M481 218h6M488 218h11M500 218h2M503 218h5M509 218h3M513 218h1M516 218h1M523 218h2M343 219h1M354 219h2M391 219h2M406 219h1M408 219h1M414 219h1M427 219h2M440 219h1M446 219h15M463 219h5M471 219h4M476 219h8M486 219h17M504 219h3M508 219h5M516 219h1M522 219h2M342 220h1M353 220h1M389 220h2M405 220h1M408 220h1M414 220h1M425 220h2M438 220h2M445 220h3M450 220h1M452 220h5M458 220h1M460 220h1M462 220h5M470 220h1M472 220h12M485 220h1M487 220h14M503 220h2M506 220h3M510 220h1M515 220h1M521 220h1M523 220h1M341 221h1M352 221h1M387 221h2M404 221h1M407 221h1M414 221h1M423 221h2M437 221h1M444 221h3M449 221h1M451 221h5M457 221h1M459 221h4M464 221h2M469 221h1M471 221h12M484 221h1M486 221h1M488 221h12M502 221h2M505 221h3M509 221h1M514 221h1M520 221h1M522 221h1M340 222h1M350 222h2M385 222h2M403 222h1M407 222h1M413 222h1M421 222h2M435 222h2M443 222h2M448 222h1M450 222h5M456 222h1M458 222h4M463 222h2M468 222h12M481 222h11M493 222h6M501 222h1M503 222h4M508 222h1M513 222h1M519 222h1M521 222h1M340 223h1M349 223h1M383 223h2M403 223h1M406 223h1M413 223h1M419 223h2M433 223h2M441 223h2M447 223h6M454 223h1M456 223h4M461 223h2M464 223h1M467 223h11M479 223h19M500 223h6M507 223h1M512 223h1M519 223h1M521 223h1M339 224h1M348 224h1M381 224h2M402 224h1M406 224h1M412 224h1M417 224h2M432 224h1M439 224h3M446 224h13M460 224h2M463 224h1M466 224h3M470 224h7M478 224h1M480 224h14M495 224h3M499 224h6M506 224h1M511 224h1M518 224h1M520 224h1M338 225h1M346 225h2M379 225h2M401 225h1M405 225h1M412 225h1M415 225h2M430 225h2M438 225h3M443 225h10M454 225h4M459 225h2M462 225h1M465 225h3M469 225h7M477 225h16M494 225h5M500 225h4M505 225h1M510 225h1M517 225h1M519 225h1M337 226h1M345 226h1M377 226h2M400 226h1M405 226h1M412 226h3M429 226h1M436 226h4M441 226h4M446 226h9M456 226h1M458 226h2M462 226h4M468 226h7M476 226h29M509 226h1M516 226h1M519 226h1M336 227h1M344 227h1M375 227h2M399 227h1M404 227h1M411 227h2M427 227h2M434 227h2M437 227h1M439 227h2M442 227h1M445 227h9M455 227h5M461 227h4M467 227h6M475 227h23M499 227h4M509 227h1M515 227h1M518 227h1M335 228h1M342 228h2M373 228h2M398 228h1M404 228h1M409 228h3M426 228h1M432 228h2M435 228h4M441 228h1M443 228h3M447 228h6M454 228h5M460 228h3M465 228h7M474 228h6M481 228h8M490 228h7M498 228h1M500 228h2M508 228h1M514 228h1M517 228h1M334 229h1M341 229h1M371 229h2M397 229h1M403 229h1M407 229h2M410 229h1M424 229h2M430 229h2M434 229h4M440 229h3M444 229h1M447 229h4M454 229h1M457 229h1M460 229h2M464 229h1M467 229h2M470 229h1M473 229h2M476 229h5M483 229h2M486 229h2M489 229h6M496 229h2M499 229h2M507 229h1M513 229h1M517 229h1M333 230h1M340 230h1M370 230h1M396 230h1M403 230h1M405 230h2M410 230h1M422 230h2M429 230h1M432 230h3M436 230h1M439 230h2M443 230h1M446 230h1M449 230h1M453 230h1M456 230h1M459 230h1M462 230h2M465 230h2M469 230h1M472 230h1M476 230h1M479 230h1M482 230h1M486 230h1M489 230h1M492 230h1M496 230h1M498 230h2M506 230h1M512 230h1M516 230h1M332 231h1M338 231h2M368 231h2M395 231h1M403 231h2M410 231h1M420 231h2M429 231h4M435 231h1M438 231h1M442 231h1M444 231h2M447 231h3M451 231h2M454 231h2M457 231h5M463 231h6M471 231h2M474 231h9M484 231h2M487 231h5M494 231h5M505 231h1M511 231h1M515 231h1M331 232h1M337 232h1M367 232h1M394 232h1M401 232h3M409 232h1M418 232h2M428 232h2M432 232h1M435 232h3M441 232h1M443 232h9M453 232h2M456 232h7M465 232h3M470 232h12M483 232h4M488 232h3M493 232h5M504 232h1M510 232h1M515 232h1M330 233h1M336 233h1M365 233h2M393 233h1M399 233h2M403 233h1M409 233h1M416 233h2M426 233h3M431 233h1M434 233h3M440 233h1M442 233h5M448 233h1M450 233h11M464 233h3M469 233h17M487 233h3M492 233h5M503 233h1M509 233h1M514 233h1M330 234h1M334 234h2M364 234h1M393 234h1M397 234h2M403 234h1M409 234h1M414 234h2M424 234h2M428 234h1M430 234h1M433 234h2M436 234h1M438 234h7M446 234h13M463 234h4M469 234h6M476 234h9M486 234h11M502 234h1M509 234h1M513 234h1M329 235h1M333 235h1M362 235h2M392 235h1M395 235h2M403 235h1M409 235h1M412 235h2M422 235h2M428 235h1M430 235h1M433 235h1M435 235h1M437 235h7M445 235h1M447 235h10M458 235h1M462 235h4M468 235h5M474 235h13M488 235h2M491 235h3M495 235h1M501 235h1M508 235h1M513 235h1M328 236h1M332 236h1M361 236h1M391 236h1M393 236h2M403 236h1M408 236h1M410 236h2M420 236h2M428 236h2M431 236h2M434 236h1M436 236h3M440 236h5M446 236h2M449 236h7M458 236h1M461 236h4M467 236h5M473 236h2M476 236h13M490 236h3M494 236h1M500 236h1M507 236h1M512 236h1M327 237h1M330 237h2M359 237h2M390 237h3M403 237h1M408 237h2M418 237h2M428 237h1M430 237h2M433 237h1M435 237h9M445 237h5M451 237h4M458 237h6M465 237h27M493 237h1M499 237h1M506 237h1M511 237h1M326 238h1M329 238h1M357 238h2M389 238h2M403 238h1M406 238h3M416 238h2M427 238h3M431 238h17M449 238h2M452 238h1M454 238h1M457 238h2M460 238h8M469 238h2M472 238h14M487 238h6M499 238h1M505 238h1M511 238h1M325 239h1M328 239h1M356 239h1M387 239h2M403 239h3M408 239h1M414 239h2M427 239h2M430 239h6M437 239h12M451 239h1M453 239h1M457 239h1M459 239h10M470 239h3M474 239h5M480 239h2M483 239h2M487 239h5M498 239h1M504 239h1M510 239h1M324 240h1M326 240h2M354 240h2M385 240h3M402 240h2M407 240h1M412 240h2M426 240h2M429 240h2M432 240h6M439 240h8M450 240h1M452 240h1M455 240h14M470 240h10M482 240h2M485 240h6M497 240h1M503 240h1M509 240h1M323 241h1M325 241h1M353 241h1M383 241h2M386 241h1M400 241h2M403 241h1M407 241h1M410 241h2M425 241h21M449 241h1M452 241h1M454 241h1M457 241h1M459 241h8M468 241h12M481 241h2M484 241h1M486 241h2M489 241h1M496 241h1M502 241h1M509 241h1M323 242h2M351 242h2M381 242h2M386 242h1M398 242h2M403 242h1M407 242h3M424 242h19M444 242h1M449 242h1M451 242h1M453 242h1M456 242h23M480 242h4M485 242h1M487 242h3M495 242h1M502 242h1M508 242h1M322 243h2M350 243h1M379 243h2M385 243h1M396 243h2M403 243h1M406 243h2M422 243h3M426 243h4M431 243h11M444 243h1M448 243h1M450 243h3M455 243h8M464 243h19M484 243h1M486 243h3M494 243h1M501 243h1M507 243h1M321 244h1M348 244h2M377 244h2M384 244h1M394 244h2M403 244h4M421 244h2M424 244h1M426 244h3M430 244h3M434 244h2M437 244h2M440 244h1M443 244h1M447 244h1M450 244h1M454 244h8M464 244h10M476 244h2M480 244h1M483 244h1M486 244h2M493 244h1M500 244h1M507 244h1M320 245h1M346 245h2M375 245h2M383 245h1M392 245h2M402 245h2M406 245h1M419 245h2M423 245h1M425 245h2M429 245h2M433 245h1M436 245h1M439 245h1M443 245h1M446 245h1M449 245h1M453 245h1M456 245h1M459 245h1M463 245h1M466 245h1M469 245h1M472 245h1M476 245h1M479 245h1M482 245h1M486 245h1M492 245h1M499 245h1M506 245h1M318 246h2M344 246h2M373 246h2M382 246h1M390 246h2M400 246h2M403 246h1M406 246h1M416 246h4M422 246h5M428 246h2M431 246h5M437 246h2M442 246h1M445 246h1M447 246h3M452 246h1M454 246h6M461 246h2M464 246h2M467 246h5M474 246h2M478 246h4M484 246h2M491 246h1M498 246h1M505 246h1M316 247h2M342 247h2M370 247h3M381 247h1M387 247h3M397 247h3M402 247h1M405 247h1M414 247h2M419 247h1M421 247h5M427 247h4M432 247h6M441 247h1M444 247h1M446 247h1M448 247h1M452 247h23M477 247h4M483 247h2M490 247h1M498 247h1M505 247h1M314 248h3M340 248h2M368 248h2M380 248h1M385 248h2M395 248h2M402 248h1M405 248h1M411 248h3M418 248h3M422 248h8M431 248h6M440 248h1M443 248h3M448 248h1M450 248h4M455 248h4M460 248h5M466 248h8M476 248h4M481 248h3M489 248h1M497 248h1M504 248h1M313 249h2M338 249h2M366 249h2M378 249h2M383 249h2M392 249h3M401 249h1M404 249h1M408 249h3M417 249h2M420 249h6M427 249h5M433 249h3M439 249h1M441 249h3M447 249h11M459 249h8M468 249h5M475 249h4M480 249h3M488 249h1M496 249h1M503 249h1M311 250h3M336 250h2M363 250h3M377 250h1M380 250h3M390 250h2M401 250h1M404 250h1M406 250h2M415 250h3M419 250h1M421 250h4M426 250h4M431 250h4M438 250h1M440 250h3M447 250h1M449 250h2M452 250h1M454 250h2M457 250h14M473 250h7M481 250h1M487 250h1M496 250h1M503 250h1M309 251h3M334 251h2M361 251h2M376 251h1M378 251h2M387 251h3M400 251h1M403 251h3M413 251h2M416 251h1M418 251h1M420 251h6M427 251h7M437 251h1M439 251h3M445 251h5M451 251h5M457 251h13M471 251h8M480 251h1M486 251h1M495 251h1M502 251h1M307 252h4M332 252h2M358 252h3M375 252h3M385 252h2M400 252h4M411 252h2M415 252h12M428 252h6M436 252h1M438 252h3M443 252h2M446 252h6M453 252h1M455 252h12M468 252h10M479 252h1M484 252h2M494 252h1M501 252h1M306 253h3M330 253h2M356 253h2M373 253h2M383 253h2M398 253h2M403 253h1M409 253h2M415 253h3M419 253h6M426 253h2M429 253h3M433 253h1M436 253h2M439 253h1M441 253h2M445 253h5M452 253h14M467 253h4M472 253h4M479 253h1M483 253h1M494 253h1M501 253h1M304 254h3M328 254h2M354 254h2M371 254h3M380 254h3M395 254h3M399 254h1M402 254h1M407 254h2M414 254h3M418 254h5M424 254h2M427 254h4M433 254h1M435 254h2M438 254h3M444 254h5M451 254h14M466 254h2M469 254h1M471 254h5M478 254h1M482 254h1M493 254h1M500 254h1M302 255h4M326 255h2M351 255h3M368 255h3M372 255h1M378 255h2M392 255h3M398 255h1M402 255h1M405 255h2M412 255h4M417 255h13M433 255h3M437 255h2M442 255h2M445 255h3M450 255h25M477 255h1M481 255h1M492 255h1M499 255h1M301 256h1M303 256h1M324 256h2M349 256h2M366 256h2M370 256h2M375 256h3M390 256h2M398 256h1M402 256h3M411 256h1M413 256h2M416 256h4M422 256h1M425 256h5M432 256h3M436 256h2M441 256h1M443 256h4M449 256h3M453 256h5M459 256h2M462 256h4M467 256h1M469 256h4M474 256h1M476 256h1M480 256h1M492 256h1M499 256h1M299 257h4M322 257h2M346 257h3M363 257h3M369 257h1M373 257h2M387 257h3M397 257h1M401 257h2M410 257h1M412 257h2M416 257h3M420 257h3M424 257h1M426 257h11M440 257h13M454 257h6M461 257h2M465 257h7M473 257h1M475 257h1M479 257h1M491 257h1M498 257h1M297 258h2M300 258h1M320 258h2M344 258h2M361 258h2M368 258h1M370 258h3M384 258h3M397 258h1M399 258h3M408 258h2M411 258h2M415 258h3M419 258h1M421 258h7M429 258h1M431 258h3M435 258h1M438 258h5M444 258h18M464 258h3M468 258h3M473 258h2M478 258h1M490 258h1M497 258h1M295 259h2M298 259h2M318 259h2M342 259h2M359 259h2M367 259h3M382 259h2M396 259h3M400 259h1M407 259h1M411 259h1M414 259h2M417 259h2M420 259h2M423 259h2M426 259h6M433 259h2M437 259h2M440 259h1M443 259h3M447 259h5M453 259h3M457 259h2M460 259h1M464 259h4M469 259h2M472 259h2M477 259h1M490 259h1M497 259h1M294 260h1M296 260h2M317 260h1M339 260h3M356 260h3M365 260h3M379 260h3M395 260h2M400 260h1M406 260h1M409 260h2M412 260h2M416 260h1M420 260h1M423 260h1M426 260h1M429 260h1M432 260h2M436 260h1M439 260h1M443 260h1M446 260h1M449 260h1M453 260h1M456 260h1M459 260h1M463 260h1M466 260h1M468 260h2M472 260h1M476 260h1M489 260h1M496 260h1M292 261h4M315 261h2M337 261h2M354 261h2M363 261h3M376 261h3M392 261h4M399 261h1M405 261h8M415 261h2M418 261h2M421 261h5M427 261h6M434 261h6M441 261h3M445 261h1M447 261h3M451 261h2M454 261h2M457 261h2M462 261h7M470 261h2M475 261h1M488 261h1M495 261h1M290 262h4M314 262h1M335 262h2M351 262h3M361 262h4M373 262h3M389 262h3M394 262h1M398 262h1M403 262h4M408 262h4M414 262h1M416 262h9M426 262h4M432 262h2M436 262h9M446 262h1M448 262h1M450 262h5M456 262h2M461 262h6M469 262h2M474 262h1M487 262h1M494 262h1M288 263h3M313 263h1M333 263h2M349 263h2M359 263h2M362 263h1M370 263h3M386 263h3M393 263h1M397 263h1M400 263h5M406 263h5M413 263h15M429 263h1M431 263h2M434 263h7M442 263h4M448 263h9M460 263h6M467 263h3M473 263h1M486 263h1M493 263h1M286 264h3M311 264h2M331 264h2M346 264h3M357 264h2M361 264h1M368 264h2M383 264h3M392 264h1M395 264h14M410 264h1M412 264h2M415 264h12M429 264h3M433 264h1M435 264h5M441 264h4M447 264h10M458 264h4M463 264h1M466 264h1M468 264h2M471 264h2M484 264h2M491 264h2M284 265h2M310 265h1M328 265h3M344 265h2M354 265h3M360 265h1M365 265h3M380 265h3M391 265h1M393 265h4M398 265h2M402 265h2M405 265h3M409 265h1M411 265h2M414 265h10M425 265h1M429 265h4M434 265h10M446 265h7M454 265h2M457 265h6M464 265h2M467 265h2M470 265h1M483 265h1M490 265h1M281 266h4M309 266h1M326 266h2M341 266h3M352 266h2M358 266h2M362 266h3M377 266h3M390 266h4M396 266h2M400 266h3M404 266h3M408 266h4M413 266h2M416 266h6M424 266h1M428 266h3M432 266h3M436 266h2M439 266h3M443 266h1M445 266h7M453 266h5M459 266h3M463 266h1M466 266h2M469 266h1M482 266h1M489 266h1M279 267h4M307 267h2M324 267h2M339 267h2M350 267h2M357 267h1M359 267h3M373 267h4M387 267h4M392 267h4M398 267h2M401 267h1M403 267h3M407 267h2M410 267h1M412 267h2M415 267h6M423 267h1M426 267h6M433 267h1M435 267h2M438 267h4M443 267h14M458 267h5M464 267h3M468 267h1M481 267h1M488 267h1M277 268h4M306 268h1M322 268h2M337 268h2M348 268h2M356 268h3M370 268h3M384 268h4M391 268h2M396 268h2M401 268h3M405 268h2M409 268h3M413 268h7M422 268h1M425 268h5M432 268h1M434 268h1M436 268h4M441 268h14M456 268h5M463 268h1M465 268h1M467 268h1M480 268h1M487 268h1M274 269h5M305 269h1M320 269h2M334 269h3M346 269h2M353 269h3M367 269h3M381 269h6M389 269h2M394 269h2M400 269h6M408 269h3M412 269h8M421 269h1M424 269h4M429 269h1M431 269h1M433 269h1M435 269h5M441 269h1M443 269h11M455 269h1M457 269h3M462 269h1M464 269h1M466 269h1M479 269h1M486 269h1M272 270h2M276 270h1M303 270h2M317 270h3M332 270h2M343 270h3M350 270h4M364 270h3M378 270h5M385 270h1M387 270h3M392 270h2M399 270h6M407 270h12M420 270h1M422 270h5M429 270h2M432 270h9M442 270h13M456 270h3M461 270h1M463 270h1M465 270h1M478 270h1M485 270h1M269 271h3M274 271h2M302 271h1M315 271h2M329 271h3M341 271h2M348 271h2M352 271h1M361 271h3M374 271h6M384 271h5M390 271h2M398 271h4M403 271h1M406 271h9M416 271h1M418 271h2M421 271h4M426 271h1M429 271h8M438 271h10M449 271h4M455 271h2M458 271h1M460 271h1M462 271h3M476 271h2M483 271h2M267 272h2M272 272h2M301 272h1M313 272h2M327 272h2M339 272h2M345 272h3M351 272h1M358 272h3M371 272h6M382 272h2M386 272h1M388 272h2M397 272h3M402 272h12M415 272h3M419 272h4M425 272h1M429 272h6M436 272h2M439 272h13M453 272h5M459 272h1M462 272h1M475 272h1M482 272h1M264 273h3M270 273h2M299 273h2M311 273h2M324 273h3M337 273h2M342 273h3M349 273h2M355 273h3M368 273h6M380 273h3M385 273h3M395 273h4M401 273h3M405 273h5M411 273h2M414 273h7M424 273h1M428 273h2M431 273h2M434 273h13M448 273h2M452 273h1M454 273h2M457 273h2M461 273h1M474 273h1M481 273h1M262 274h2M268 274h2M298 274h1M309 274h2M322 274h2M335 274h2M339 274h3M348 274h1M352 274h3M365 274h6M378 274h2M381 274h1M384 274h2M394 274h2M397 274h1M401 274h2M404 274h2M407 274h2M411 274h1M414 274h1M416 274h3M424 274h1M427 274h4M433 274h2M436 274h6M443 274h3M447 274h2M450 274h2M454 274h1M456 274h2M460 274h1M473 274h1M480 274h1M259 275h3M267 275h1M297 275h1M307 275h2M320 275h2M333 275h2M337 275h2M347 275h1M350 275h2M363 275h2M366 275h2M376 275h2M380 275h1M383 275h1M393 275h1M395 275h2M399 275h2M403 275h1M406 275h1M410 275h1M413 275h1M415 275h2M423 275h1M426 275h1M429 275h1M432 275h2M435 275h2M438 275h2M442 275h2M446 275h1M449 275h1M452 275h2M456 275h1M459 275h1M472 275h1M479 275h1M255 276h4M267 276h1M296 276h1M305 276h2M318 276h2M332 276h1M335 276h2M345 276h2M348 276h2M361 276h2M365 276h1M375 276h1M378 276h2M381 276h2M391 276h5M397 276h3M401 276h3M405 276h1M408 276h2M411 276h5M421 276h2M424 276h2M427 276h2M430 276h9M440 276h3M444 276h2M447 276h6M454 276h2M457 276h2M471 276h1M478 276h1M252 277h3M266 277h1M295 277h1M304 277h1M317 277h1M331 277h1M334 277h1M343 277h2M347 277h1M360 277h1M364 277h1M374 277h1M377 277h1M380 277h1M390 277h3M394 277h9M404 277h4M409 277h6M420 277h1M422 277h2M425 277h26M452 277h2M455 277h2M469 277h2M477 277h1M248 278h4M266 278h1M294 278h1M303 278h1M316 278h1M330 278h1M333 278h1M342 278h1M346 278h1M358 278h2M363 278h1M373 278h1M376 278h1M378 278h2M388 278h3M392 278h3M396 278h5M402 278h12M418 278h21M440 278h9M450 278h6M468 278h1M476 278h1M245 279h3M265 279h1M292 279h2M301 279h2M314 279h2M329 279h1M331 279h2M340 279h2M344 279h2M357 279h1M362 279h1M373 279h3M377 279h2M387 279h2M391 279h2M394 279h17M413 279h1M417 279h1M419 279h18M438 279h5M444 279h7M452 279h3M467 279h1M475 279h1M241 280h4M265 280h1M291 280h1M300 280h1M313 280h1M328 280h1M330 280h1M339 280h1M343 280h1M355 280h2M361 280h1M372 280h2M375 280h2M385 280h2M389 280h3M393 280h5M399 280h1M401 280h9M412 280h1M415 280h20M436 280h10M447 280h6M466 280h1M474 280h1M238 281h3M264 281h1M290 281h1M299 281h1M312 281h1M327 281h1M329 281h1M337 281h2M342 281h1M354 281h1M360 281h1M371 281h2M374 281h2M383 281h2M387 281h2M390 281h1M392 281h3M396 281h1M398 281h10M411 281h1M414 281h27M442 281h8M451 281h1M464 281h2M473 281h1M234 282h4M264 282h1M289 282h1M297 282h2M310 282h2M325 282h4M335 282h2M340 282h2M352 282h2M358 282h2M370 282h5M381 282h3M385 282h2M388 282h6M395 282h12M410 282h1M412 282h27M440 282h8M449 282h2M463 282h1M471 282h2M231 283h3M263 283h1M288 283h1M296 283h1M309 283h1M324 283h1M326 283h1M334 283h1M339 283h1M350 283h2M357 283h1M369 283h4M379 283h3M383 283h2M387 283h5M394 283h11M409 283h22M432 283h14M448 283h1M462 283h1M470 283h1M228 284h3M263 284h1M287 284h1M295 284h1M308 284h1M323 284h1M325 284h1M332 284h2M338 284h1M349 284h1M356 284h1M368 284h2M371 284h1M377 284h3M381 284h2M386 284h18M408 284h33M442 284h3M447 284h1M460 284h2M469 284h1M224 285h4M262 285h1M286 285h1M293 285h2M306 285h2M322 285h3M331 285h1M336 285h2M347 285h2M355 285h1M366 285h5M375 285h6M385 285h18M407 285h29M437 285h2M440 285h3M445 285h2M459 285h1M468 285h1M221 286h3M262 286h1M284 286h2M292 286h1M305 286h1M321 286h2M329 286h2M335 286h1M346 286h1M354 286h1M365 286h2M368 286h1M373 286h2M376 286h3M383 286h13M397 286h5M405 286h6M412 286h20M433 286h5M439 286h2M444 286h1M458 286h1M467 286h1M217 287h4M261 287h1M283 287h1M291 287h1M304 287h1M320 287h2M327 287h2M334 287h1M344 287h2M353 287h1M364 287h4M371 287h2M374 287h3M381 287h19M403 287h33M437 287h3M443 287h1M457 287h1M466 287h1M214 288h3M261 288h1M282 288h1M289 288h2M302 288h2M319 288h2M326 288h1M332 288h2M343 288h1M352 288h1M362 288h2M365 288h2M369 288h2M373 288h2M379 288h12M392 288h7M400 288h21M422 288h12M436 288h2M441 288h2M455 288h2M465 288h1M210 289h4M260 289h1M281 289h1M288 289h1M301 289h1M318 289h1M324 289h2M331 289h1M341 289h2M351 289h1M361 289h2M364 289h1M367 289h2M371 289h2M377 289h3M381 289h8M391 289h2M394 289h6M401 289h15M417 289h2M421 289h5M427 289h2M430 289h2M434 289h2M440 289h1M454 289h1M464 289h1M208 290h2M260 290h1M280 290h1M287 290h1M300 290h1M317 290h1M323 290h1M330 290h1M340 290h1M350 290h1M360 290h1M363 290h1M366 290h1M369 290h2M376 290h2M379 290h3M383 290h1M385 290h2M390 290h1M393 290h1M395 290h3M399 290h6M406 290h2M410 290h4M415 290h2M419 290h5M425 290h2M428 290h2M433 290h1M439 290h1M453 290h1M463 290h1M207 291h1M258 291h2M278 291h2M285 291h2M298 291h2M315 291h2M321 291h2M328 291h2M338 291h2M348 291h2M358 291h2M361 291h2M364 291h2M367 291h2M374 291h2M377 291h3M381 291h5M388 291h2M391 291h5M397 291h6M404 291h2M408 291h21M431 291h2M438 291h1M452 291h1M462 291h1M206 292h1M257 292h1M277 292h1M283 292h2M296 292h2M313 292h2M320 292h1M326 292h2M336 292h2M347 292h1M356 292h2M360 292h7M373 292h5M379 292h6M386 292h8M395 292h7M403 292h2M406 292h22M430 292h1M437 292h1M451 292h1M461 292h1M205 293h1M255 293h2M275 293h2M281 293h2M294 293h2M311 293h3M318 293h2M324 293h2M334 293h2M345 293h2M354 293h2M358 293h7M371 293h15M387 293h11M399 293h24M424 293h2M428 293h2M436 293h1M450 293h1M460 293h1M203 294h2M254 294h1M274 294h1M279 294h2M293 294h1M309 294h3M317 294h1M323 294h1M333 294h1M344 294h1M352 294h2M357 294h1M359 294h4M369 294h12M382 294h2M385 294h14M400 294h21M423 294h2M427 294h1M436 294h1M449 294h1M459 294h1M202 295h1M252 295h2M272 295h2M278 295h1M291 295h2M308 295h3M315 295h2M321 295h2M331 295h2M342 295h2M351 295h1M355 295h6M367 295h3M371 295h9M381 295h1M384 295h13M398 295h12M411 295h9M421 295h3M425 295h2M435 295h1M448 295h1M458 295h1M201 296h1M251 296h1M271 296h1M276 296h2M289 296h2M306 296h3M314 296h1M319 296h2M329 296h2M341 296h1M349 296h2M354 296h5M364 296h4M369 296h9M379 296h2M382 296h34M417 296h1M420 296h3M424 296h1M434 296h1M447 296h1M457 296h1M200 297h1M249 297h2M269 297h2M274 297h2M287 297h2M304 297h4M312 297h2M317 297h2M327 297h2M339 297h2M347 297h2M352 297h5M362 297h2M365 297h9M375 297h39M415 297h2M418 297h3M422 297h2M433 297h1M446 297h1M456 297h1M199 298h1M247 298h2M267 298h2M272 298h2M286 298h1M302 298h4M310 298h2M316 298h1M326 298h1M337 298h2M345 298h2M350 298h5M360 298h2M363 298h9M373 298h15M389 298h1M391 298h17M409 298h3M413 298h2M416 298h2M419 298h3M432 298h1M446 298h1M456 298h1M198 299h1M246 299h1M266 299h1M270 299h2M284 299h2M300 299h2M303 299h1M309 299h1M314 299h2M324 299h2M336 299h1M343 299h2M347 299h7M357 299h3M362 299h8M372 299h3M376 299h11M388 299h18M407 299h4M412 299h1M415 299h1M417 299h3M431 299h1M445 299h1M455 299h1M197 300h1M244 300h2M264 300h2M269 300h1M282 300h2M299 300h1M301 300h2M307 300h2M312 300h2M322 300h2M334 300h2M342 300h1M345 300h6M352 300h1M355 300h2M360 300h9M370 300h42M413 300h2M416 300h3M430 300h1M444 300h1M454 300h1M195 301h2M243 301h1M263 301h1M267 301h2M281 301h1M297 301h2M300 301h1M306 301h1M311 301h1M321 301h1M333 301h1M340 301h5M346 301h3M351 301h4M359 301h4M364 301h3M369 301h6M376 301h4M381 301h24M406 301h1M409 301h1M412 301h1M415 301h2M429 301h1M443 301h1M453 301h1M194 302h1M241 302h2M261 302h2M265 302h2M279 302h2M295 302h2M298 302h2M304 302h2M309 302h2M319 302h2M331 302h2M338 302h4M344 302h3M350 302h2M356 302h5M362 302h16M380 302h5M386 302h17M404 302h2M407 302h2M410 302h2M414 302h2M429 302h1M442 302h1M452 302h1M193 303h1M240 303h1M260 303h1M263 303h2M277 303h2M293 303h2M297 303h1M303 303h1M307 303h2M317 303h2M330 303h1M336 303h4M343 303h2M347 303h3M354 303h5M360 303h4M365 303h6M372 303h8M381 303h10M392 303h9M403 303h1M406 303h2M409 303h1M412 303h2M428 303h1M441 303h1M451 303h1M192 304h1M238 304h2M258 304h2M261 304h2M275 304h2M291 304h2M295 304h2M301 304h2M305 304h2M315 304h2M328 304h2M334 304h3M341 304h2M345 304h2M348 304h1M352 304h5M358 304h2M361 304h2M364 304h5M371 304h8M381 304h8M391 304h8M401 304h2M404 304h2M407 304h2M411 304h2M427 304h1M440 304h1M450 304h1M191 305h1M237 305h1M257 305h1M260 305h1M274 305h1M290 305h1M293 305h2M299 305h2M303 305h2M313 305h2M327 305h1M332 305h3M339 305h2M343 305h2M346 305h2M349 305h6M356 305h2M359 305h2M362 305h5M369 305h8M379 305h8M389 305h3M393 305h4M399 305h2M403 305h1M405 305h2M410 305h1M426 305h1M439 305h1M449 305h1M190 306h1M236 306h1M255 306h2M258 306h2M272 306h2M288 306h2M291 306h2M297 306h2M301 306h2M311 306h2M325 306h2M330 306h2M337 306h2M341 306h5M347 306h2M350 306h3M354 306h5M360 306h12M373 306h3M377 306h13M391 306h5M397 306h2M401 306h5M408 306h2M425 306h1M438 306h1M447 306h2M189 307h1M235 307h1M253 307h2M257 307h1M270 307h2M286 307h2M289 307h2M295 307h2M299 307h2M309 307h2M323 307h2M327 307h3M334 307h3M339 307h4M345 307h6M352 307h4M357 307h17M375 307h13M389 307h5M395 307h2M400 307h4M406 307h2M424 307h1M437 307h1M446 307h1M188 308h1M234 308h1M251 308h2M255 308h2M268 308h2M284 308h2M287 308h2M293 308h2M297 308h2M307 308h2M321 308h2M324 308h4M332 308h3M337 308h4M343 308h11M355 308h35M391 308h4M398 308h4M404 308h3M423 308h1M436 308h1M445 308h1M186 309h2M233 309h1M250 309h1M254 309h1M266 309h2M283 309h1M285 309h2M291 309h2M295 309h2M305 309h2M319 309h2M322 309h4M330 309h3M335 309h3M341 309h4M346 309h43M390 309h3M397 309h3M402 309h4M423 309h1M435 309h1M443 309h2M185 310h1M232 310h1M248 310h2M252 310h2M265 310h1M281 310h4M289 310h2M293 310h2M303 310h2M318 310h6M327 310h4M333 310h3M339 310h4M344 310h4M350 310h37M388 310h3M394 310h5M401 310h3M422 310h1M434 310h1M442 310h1M184 311h1M231 311h1M246 311h2M251 311h1M263 311h2M279 311h4M287 311h2M291 311h2M301 311h2M316 311h5M325 311h4M330 311h4M337 311h3M342 311h4M348 311h38M387 311h2M392 311h5M399 311h4M421 311h1M433 311h1M441 311h1M183 312h1M229 312h2M244 312h2M249 312h2M261 312h2M277 312h4M285 312h2M289 312h2M299 312h2M314 312h5M322 312h10M335 312h3M340 312h47M390 312h5M397 312h5M420 312h1M431 312h2M439 312h2M182 313h1M228 313h1M243 313h1M247 313h2M259 313h2M276 313h3M283 313h2M287 313h2M297 313h2M311 313h3M315 313h2M320 313h7M329 313h1M333 313h2M338 313h7M346 313h12M359 313h26M388 313h5M395 313h3M399 313h1M419 313h1M430 313h1M438 313h1M181 314h1M227 314h1M241 314h2M246 314h1M257 314h2M274 314h3M281 314h2M285 314h2M295 314h2M309 314h3M313 314h2M318 314h7M327 314h2M331 314h2M335 314h5M341 314h2M344 314h4M349 314h31M381 314h2M386 314h2M389 314h3M393 314h4M398 314h1M418 314h1M429 314h1M437 314h1M180 315h1M226 315h1M239 315h2M244 315h2M256 315h1M272 315h3M279 315h2M283 315h2M293 315h2M306 315h7M315 315h7M325 315h2M328 315h3M332 315h13M347 315h35M383 315h3M387 315h3M392 315h1M394 315h1M396 315h2M417 315h1M428 315h1M435 315h2M178 316h2M225 316h1M238 316h1M243 316h1M254 316h2M271 316h2M277 316h2M281 316h2M291 316h2M304 316h2M307 316h3M313 316h6M324 316h1M326 316h3M330 316h2M334 316h9M345 316h8M354 316h26M381 316h2M386 316h2M390 316h4M395 316h1M416 316h1M427 316h1M434 316h1M177 317h1M224 317h1M236 317h2M241 317h2M252 317h2M269 317h2M275 317h2M279 317h2M289 317h2M301 317h3M305 317h3M310 317h7M322 317h8M332 317h8M341 317h10M352 317h29M384 317h3M388 317h4M394 317h1M416 317h1M426 317h1M433 317h1M176 318h1M223 318h1M234 318h2M240 318h1M250 318h2M267 318h2M273 318h2M277 318h2M287 318h2M298 318h3M303 318h3M308 318h2M311 318h4M320 318h7M330 318h18M350 318h21M372 318h7M383 318h2M386 318h2M389 318h1M392 318h2M415 318h1M425 318h1M431 318h2M175 319h1M222 319h1M232 319h2M238 319h2M248 319h2M265 319h2M271 319h2M275 319h2M285 319h2M296 319h2M301 319h3M306 319h2M309 319h4M318 319h6M328 319h18M348 319h9M358 319h11M371 319h2M374 319h3M381 319h2M384 319h2M387 319h2M391 319h1M414 319h1M424 319h1M430 319h1M174 320h1M221 320h1M231 320h1M237 320h1M247 320h1M263 320h2M269 320h2M274 320h1M283 320h2M294 320h2M299 320h3M303 320h6M310 320h1M316 320h6M326 320h9M336 320h8M346 320h9M356 320h8M365 320h2M369 320h2M372 320h5M379 320h2M382 320h2M385 320h2M389 320h2M411 320h3M421 320h3M427 320h3M174 321h1M220 321h1M229 321h2M235 321h2M245 321h2M261 321h3M267 321h2M272 321h2M281 321h2M292 321h2M296 321h3M300 321h3M304 321h3M308 321h2M314 321h6M323 321h19M343 321h32M376 321h13M406 321h5M415 321h12M174 322h1M219 322h1M228 322h1M234 322h1M243 322h2M259 322h3M265 322h2M270 322h2M279 322h2M291 322h1M293 322h7M302 322h3M306 322h2M312 322h2M315 322h3M320 322h20M341 322h31M373 322h12M402 322h4M410 322h5M416 322h5M173 323h1M218 323h1M226 323h2M232 323h2M241 323h2M257 323h3M263 323h2M268 323h2M277 323h2M290 323h7M300 323h2M303 323h3M310 323h2M313 323h24M338 323h31M370 323h12M397 323h5M405 323h11M173 324h1M218 324h1M225 324h1M231 324h1M240 324h1M255 324h3M261 324h2M266 324h2M275 324h2M287 324h7M298 324h2M301 324h3M308 324h2M311 324h6M318 324h48M368 324h10M392 324h5M399 324h11M173 325h1M217 325h1M223 325h2M229 325h2M238 325h2M253 325h3M258 325h3M265 325h1M273 325h2M284 325h7M295 325h3M300 325h3M306 325h2M309 325h5M315 325h3M319 325h4M324 325h40M365 325h10M388 325h4M394 325h11M173 326h1M216 326h1M222 326h1M228 326h1M236 326h2M251 326h4M256 326h2M263 326h2M271 326h2M281 326h8M293 326h2M299 326h2M304 326h2M307 326h5M313 326h3M317 326h44M362 326h9M383 326h5M389 326h10M173 327h1M215 327h1M220 327h2M226 327h2M234 327h2M249 327h4M254 327h2M261 327h2M269 327h2M277 327h10M291 327h2M297 327h2M302 327h5M309 327h59M378 327h16M172 328h1M214 328h1M218 328h2M224 328h2M233 328h1M247 328h4M252 328h2M259 328h2M267 328h2M274 328h3M278 328h3M283 328h2M289 328h2M296 328h1M300 328h5M307 328h57M374 328h14M172 329h1M213 329h1M217 329h1M223 329h1M231 329h2M245 329h4M250 329h2M257 329h2M265 329h2M271 329h3M275 329h3M281 329h2M287 329h2M294 329h2M298 329h5M305 329h47M353 329h7M369 329h14M172 330h1M212 330h1M215 330h2M221 330h2M229 330h2M243 330h2M246 330h4M256 330h1M263 330h2M268 330h3M272 330h3M279 330h3M284 330h3M292 330h6M299 330h2M302 330h47M350 330h7M364 330h14M172 331h1M211 331h1M214 331h1M220 331h1M228 331h1M241 331h2M244 331h3M254 331h2M261 331h2M265 331h7M277 331h3M282 331h2M291 331h5M297 331h2M300 331h46M348 331h5M360 331h12M172 332h1M211 332h3M218 332h2M226 332h2M239 332h2M242 332h3M252 332h2M259 332h2M262 332h6M275 332h2M278 332h1M280 332h2M288 332h6M295 332h49M345 332h5M355 332h12M171 333h1M210 333h2M217 333h1M224 333h2M237 333h2M240 333h3M250 333h2M257 333h8M273 333h2M276 333h4M285 333h7M293 333h54M350 333h11M171 334h1M209 334h2M215 334h2M222 334h2M235 334h2M238 334h3M248 334h2M255 334h7M271 334h2M275 334h3M282 334h5M288 334h2M291 334h4M296 334h38M335 334h9M346 334h10M171 335h1M207 335h2M213 335h2M220 335h2M233 335h2M236 335h3M246 335h2M252 335h7M268 335h3M272 335h4M279 335h13M293 335h19M313 335h12M326 335h9M336 335h14M170 336h1M204 336h3M210 336h3M217 336h3M229 336h7M242 336h4M248 336h7M264 336h9M276 336h63M340 336h2M344 336h2M169 337h1M201 337h3M207 337h3M214 337h3M226 337h7M238 337h4M244 337h7M260 337h9M272 337h64M337 337h3M341 337h3M168 338h1M198 338h4M204 338h3M211 338h3M222 338h7M234 338h4M240 338h6M256 338h10M267 338h67M335 338h2M339 338h2M168 339h1M195 339h4M202 339h2M207 339h4M219 339h7M231 339h3M236 339h6M252 339h10M263 339h68M333 339h2M336 339h3M167 340h1M192 340h4M199 340h3M204 340h3M215 340h8M227 340h11M248 340h74M323 340h5M330 340h3M334 340h2M166 341h1M189 341h5M196 341h3M201 341h3M212 341h8M223 341h10M244 341h6M252 341h33M286 341h33M320 341h6M328 341h2M331 341h3M165 342h1M186 342h5M193 342h3M198 342h3M208 342h8M219 342h10M239 342h7M248 342h17M266 342h15M282 342h41M325 342h3M329 342h2M164 343h1M184 343h4M190 343h3M195 343h3M204 343h9M216 343h8M235 343h6M243 343h18M262 343h15M279 343h33M313 343h7M323 343h2M327 343h2M163 344h1M181 344h5M187 344h3M192 344h3M201 344h9M212 344h8M231 344h6M238 344h19M258 344h16M275 344h35M311 344h7M321 344h2M324 344h3M162 345h1M178 345h5M184 345h3M189 345h3M197 345h9M208 345h8M227 345h81M309 345h6M318 345h3M322 345h2M161 346h1M175 346h5M182 346h2M185 346h4M194 346h9M205 346h7M223 346h5M229 346h4M234 346h72M307 346h5M316 346h2M319 346h3M161 347h1M172 347h6M179 347h6M190 347h10M201 347h7M219 347h20M240 347h70M313 347h3M317 347h2M160 348h1M169 348h6M176 348h6M187 348h17M215 348h19M236 348h57M294 348h3M298 348h9M311 348h2M314 348h3M159 349h1M166 349h3M170 349h2M173 349h6M183 349h17M211 349h18M233 349h52M286 349h5M292 349h2M296 349h8M309 349h2M312 349h2M157 350h2M163 350h3M167 350h9M179 350h17M206 350h18M229 350h73M304 350h8M154 351h3M159 351h14M175 351h17M200 351h18M223 351h84M151 352h3M156 352h3M160 352h9M171 352h16M194 352h18M218 352h83M148 353h3M152 353h13M167 353h15M188 353h18M212 353h82M144 354h4M149 354h3M153 354h8M163 354h14M182 354h18M206 354h82M141 355h3M145 355h12M158 355h15M177 355h17M199 355h83M138 356h3M142 356h3M146 356h7M154 356h14M171 356h17M193 356h82M135 357h14M150 357h13M165 357h17M186 357h83M132 358h13M146 358h12M159 358h17M180 358h82M129 359h5M135 359h6M142 359h28M174 359h82M126 360h38M167 360h83M122 361h5M128 361h30M161 361h82M119 362h33M154 362h83M116 363h4M121 363h25M148 363h82M113 364h27M142 364h82M111 365h2M115 365h2M118 365h16M138 365h4M145 365h23M171 365h47"/>
<g shape-rendering="crispEdges" stroke="#000" stroke-width="1" fill="none">
<rect x="65.5" y="65.5" width="550" height="310"/>
<line x1="128.5" y1="375" x2="128.5" y2="370"/>
<line x1="128.5" y1="66" x2="128.5" y2="71"/>
<line x1="181.5" y1="375" x2="181.5" y2="365"/>
<line x1="181.5" y1="66" x2="181.5" y2="76"/>
<line x1="234.5" y1="375" x2="234.5" y2="370"/>
<line x1="234.5" y1="66" x2="234.5" y2="71"/>
<line x1="287.5" y1="375" x2="287.5" y2="365"/>
<line x1="287.5" y1="66" x2="287.5" y2="76"/>
<line x1="340.5" y1="375" x2="340.5" y2="370"/>
<line x1="340.5" y1="66" x2="340.5" y2="71"/>
<line x1="393.5" y1="375" x2="393.5" y2="365"/>
<line x1="393.5" y1="66" x2="393.5" y2="76"/>
<line x1="446.5" y1="375" x2="446.5" y2="370"/>
<line x1="446.5" y1="66" x2="446.5" y2="71"/>
<line x1="499.5" y1="375" x2="499.5" y2="365"/>
<line x1="499.5" y1="66" x2="499.5" y2="76"/>
<line x1="552.5" y1="375" x2="552.5" y2="370"/>
<line x1="552.5" y1="66" x2="552.5" y2="71"/>
<line x1="605.5" y1="375" x2="605.5" y2="365"/>
<line x1="605.5" y1="66" x2="605.5" y2="76"/>
<line x1="66" y1="336.5" x2="71" y2="336.5"/>
<line x1="615" y1="336.5" x2="610" y2="336.5"/>
<line x1="66" y1="307.5" x2="71" y2="307.5"/>
<line x1="615" y1="307.5" x2="610" y2="307.5"/>
<line x1="66" y1="278.5" x2="71" y2="278.5"/>
<line x1="615" y1="278.5" x2="610" y2="278.5"/>
<line x1="66" y1="249.5" x2="71" y2="249.5"/>
<line x1="615" y1="249.5" x2="610" y2="249.5"/>
<line x1="66" y1="220.5" x2="76" y2="220.5"/>
<line x1="615" y1="220.5" x2="605" y2="220.5"/>
<line x1="66" y1="191.5" x2="71" y2="191.5"/>
<line x1="615" y1="191.5" x2="610" y2="191.5"/>
<line x1="66" y1="162.5" x2="71" y2="162.5"/>
<line x1="615" y1="162.5" x2="610" y2="162.5"/>
<line x1="66" y1="133.5" x2="71" y2="133.5"/>
<line x1="615" y1="133.5" x2="610" y2="133.5"/>
<line x1="66" y1="104.5" x2="71" y2="104.5"/>
<line x1="615" y1="104.5" x2="610" y2="104.5"/>
<line x1="66" y1="75.5" x2="76" y2="75.5"/>
<line x1="615" y1="75.5" x2="605" y2="75.5"/>
</g>
</svg>
<div class="t title">R0981-D4</div>
<div class="t xl">Percent of Residues (CA)</div>
<div class="t yl">Distance Cutoff, A</div>
<div class="t tk" style="left:61px">0</div>
<div class="t tk" style="left:172px">20</div>
<div class="t tk" style="left:278.3px">40</div>
<div class="t tk" style="left:384.3px">60</div>
<div class="t tk" style="left:490px">80</div>
<div class="t tk" style="left:595.2px"><span class="m">1</span>00</div>
<div class="t tky" style="top:374.5px">0</div>
<div class="t tky" style="top:219.3px">5</div>
<div class="t tky" style="top:65.2px"><span class="m">1</span>0</div>
</body></html>
